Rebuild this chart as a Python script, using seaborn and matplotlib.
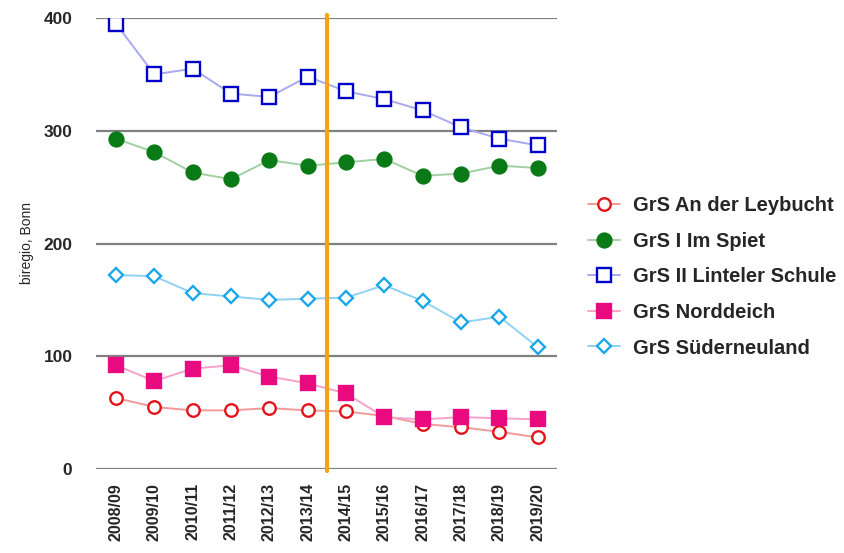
import matplotlib
matplotlib.use("Agg")
import matplotlib.pyplot as plt
import numpy as np
import pandas as pd
import seaborn as sns

seasons = ["2008/09", "2009/10", "2010/11", "2011/12", "2012/13", "2013/14",
           "2014/15", "2015/16", "2016/17", "2017/18", "2018/19", "2019/20"]

leybucht = [63, 55, 52, 52, 54, 52, 51, 47, 40, 37, 33, 28]
im_spiet = [293, 281, 263, 257, 274, 269, 272, 275, 260, 262, 269, 267]
linteler = [395, 350, 355, 333, 330, 348, 335, 328, 318, 303, 293, 287]
norddeich = [92, 78, 89, 92, 82, 76, 67, 46, 44, 46, 45, 44]
suederneuland = [172, 171, 156, 153, 150, 151, 152, 163, 149, 130, 135, 108]

names = ["GrS An der Leybucht", "GrS I Im Spiet", "GrS II Linteler Schule",
         "GrS Norddeich", "GrS Süderneuland"]
values = [leybucht, im_spiet, linteler, norddeich, suederneuland]

# (line colour, marker colour, marker, filled, size)
styles = [
    ("#f29a9a", "#e3141c", "o", False, 9),
    ("#9fd0a2", "#0a7a16", "o", True, 10),
    ("#a9a9f0", "#0000cc", "s", False, 10),
    ("#f6a3cc", "#ea0a7f", "s", True, 10),
    ("#8fd2f2", "#1ba8ea", "D", False, 7),
]

df = pd.DataFrame({"Schuljahr": np.tile(seasons, len(names)),
                   "Schule": np.repeat(names, len(seasons)),
                   "Anzahl": np.concatenate(values)})

sns.set_style("white")
plt.rcParams["font.family"] = ["Liberation Sans", "DejaVu Sans"]

fig = plt.figure(figsize=(8.45, 5.53), dpi=100)
ax = fig.add_axes([96 / 845, 1 - 469 / 553, (557 - 96) / 845, (469 - 18) / 553])

for name, (lc, mc, mk, filled, ms) in zip(names, styles):
    sub = df[df["Schule"] == name]
    sns.lineplot(data=sub, x="Schuljahr", y="Anzahl", ax=ax, label=name,
                 color=lc, lw=1.4, marker=mk, markersize=ms,
                 markeredgecolor=mc, markeredgewidth=1.7,
                 markerfacecolor=mc if filled else "white", zorder=3)

ax.axvline(5.5, ymin=-0.004, ymax=1.007, color="#f7a01c", lw=3, zorder=4, clip_on=False)

ax.set_ylim(0, 400)
ax.set_xlim(-0.52, 11.5)
ax.set_yticks([0, 100, 200, 300, 400])
for y in [0, 100, 200, 300, 400]:
    ax.axhline(y, color="#808080", lw=1.6, zorder=1)
sns.despine(ax=ax, left=True, bottom=True)
ax.tick_params(axis="y", length=0, pad=17, labelsize=12.5)
ax.tick_params(axis="x", length=0, pad=10, labelsize=11.5)
for lab in ax.get_yticklabels():
    lab.set_fontweight("bold")
for lab in ax.get_xticklabels():
    lab.set_fontweight("bold")
    lab.set_rotation(90)
    lab.set_va("top")

ax.set_xlabel("")
ax.set_ylabel("biregio, Bonn", fontsize=10, labelpad=7)

ax.legend(loc="center left", bbox_to_anchor=(588 / 845, 1 - 277 / 553),
          bbox_transform=fig.transFigure, frameon=False, borderpad=0,
          borderaxespad=0, handlelength=1.6, handletextpad=0.65,
          labelspacing=0.82, prop={"size": 14.5, "weight": "bold"})

fig.savefig("out.png", dpi=100)
